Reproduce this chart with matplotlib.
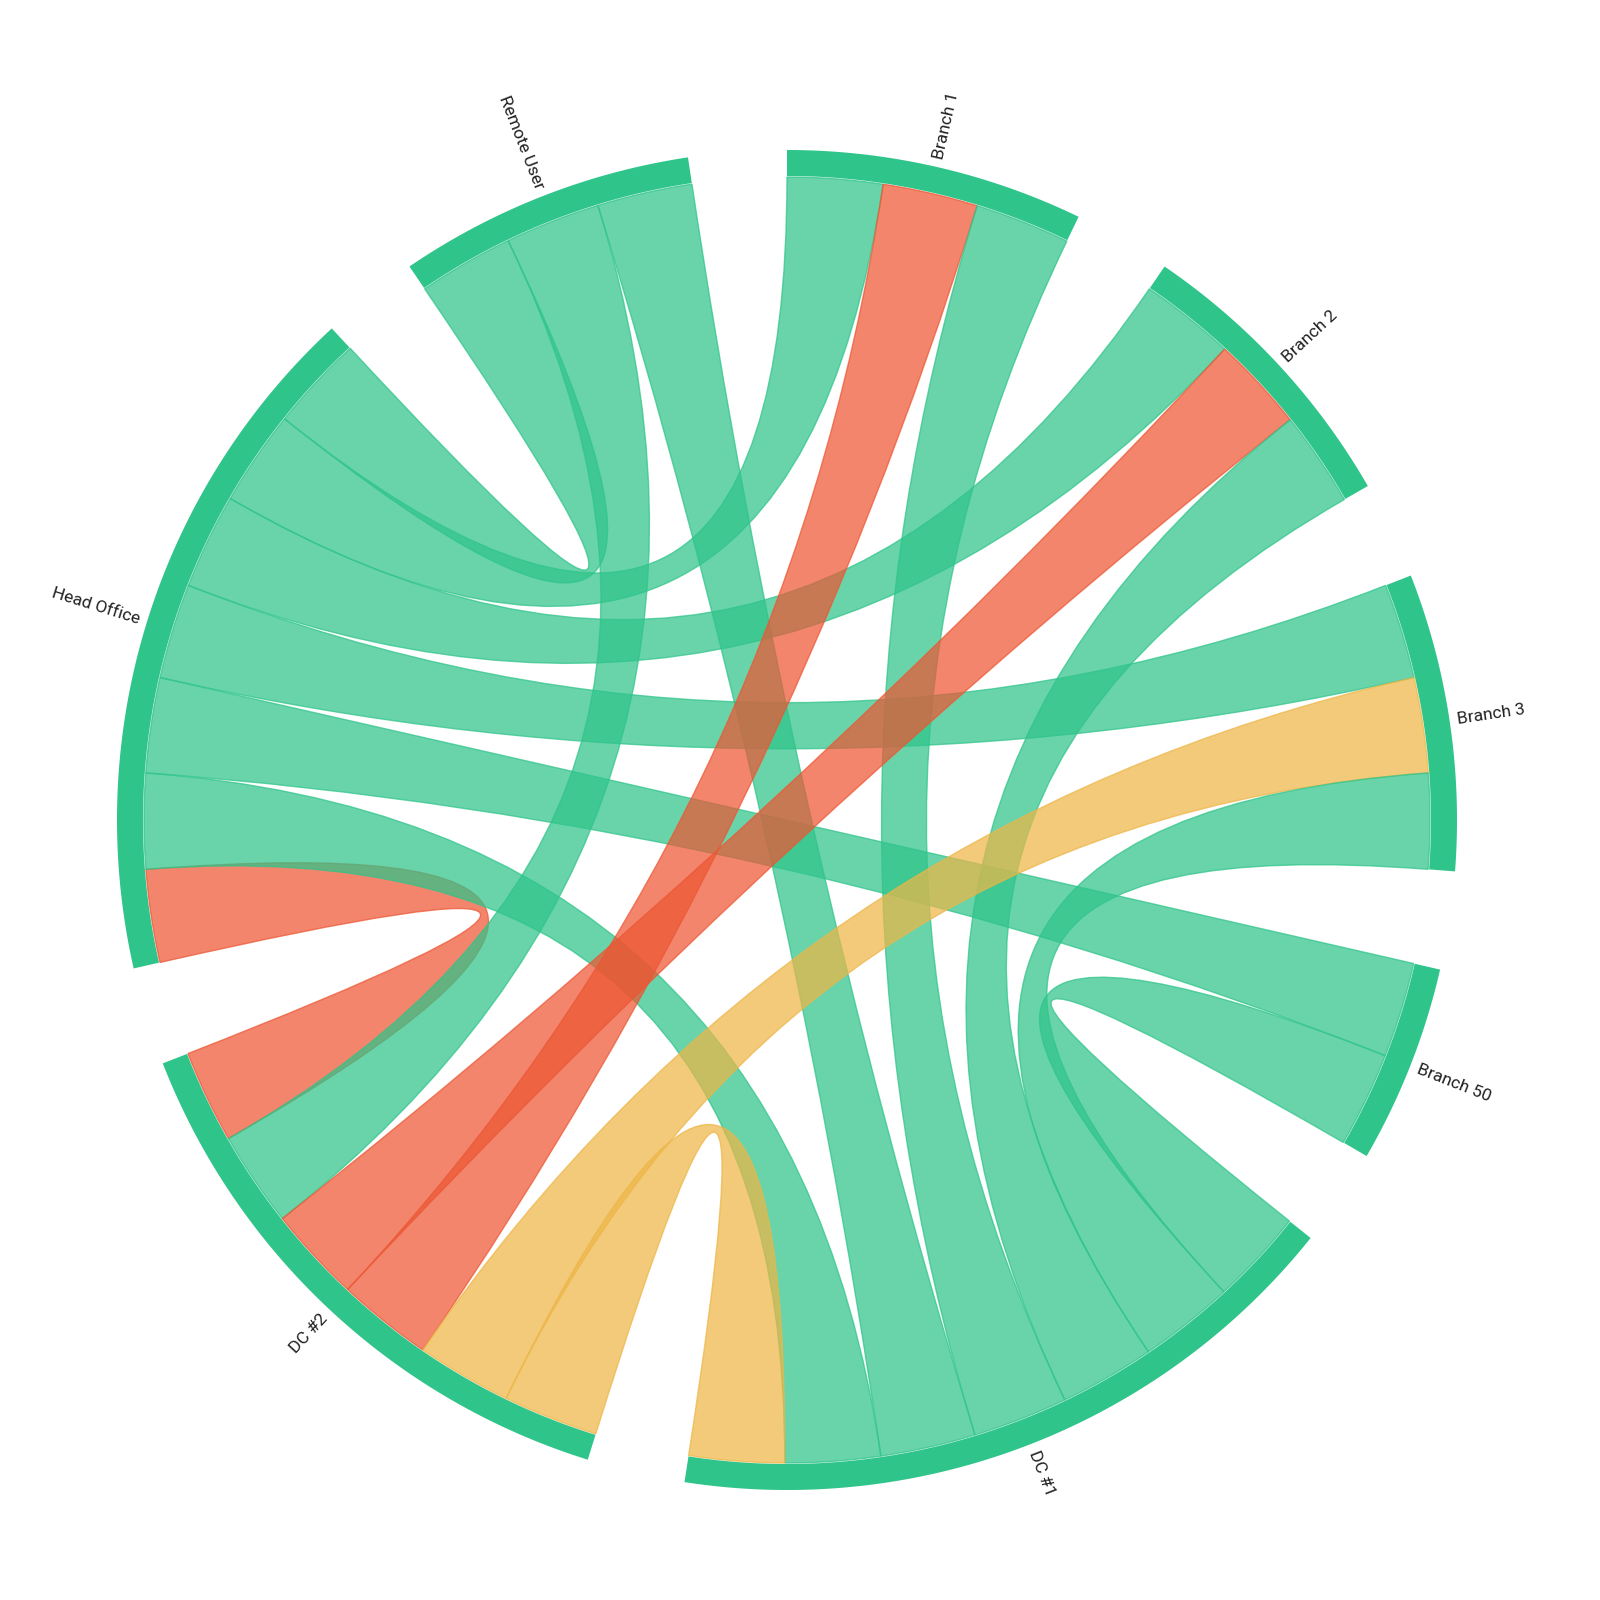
import numpy as np
import matplotlib
matplotlib.use("Agg")
import matplotlib.pyplot as plt
from matplotlib.path import Path
from matplotlib.patches import PathPatch

nodes = ["Branch 1", "Branch 2", "Branch 3", "Branch 50", "DC #1", "DC #2", "Head Office", "Remote User"]
# links: (source, target, value, colour key)
link_src = ["Head Office","Head Office","Head Office","Head Office","Head Office","Head Office","Head Office",
            "Remote User","Remote User","Branch 1","Branch 1","Branch 2","Branch 2","Branch 3","Branch 3",
            "Branch 50","DC #1"]
link_tgt = ["DC #2","DC #1","Branch 50","Branch 3","Branch 2","Branch 1","Remote User",
            "DC #2","DC #1","DC #2","DC #1","DC #2","DC #1","DC #2","DC #1",
            "DC #1","DC #2"]
link_val = [8.4,8.6,8.6,8.6,8.6,8.6,8.6, 8.6,8.6, 8.6,8.6, 8.6,8.6, 8.6,8.6, 8.6,8.6]
link_col = ["red","green","green","green","green","green","green",
            "green","green","red","green","red","green","yellow","green",
            "green","yellow"]
# clockwise order of connections at each node
order = {
    "Branch 1": ["Head Office","DC #2","DC #1"],
    "Branch 2": ["Head Office","DC #2","DC #1"],
    "Branch 3": ["Head Office","DC #2","DC #1"],
    "Branch 50": ["Head Office","DC #1"],
    "DC #1": ["Branch 50","Branch 3","Branch 2","Branch 1","Remote User","Head Office","DC #2"],
    "DC #2": ["DC #1","Branch 3","Branch 1","Branch 2","Remote User","Head Office"],
    "Head Office": ["DC #2","DC #1","Branch 50","Branch 3","Branch 2","Branch 1","Remote User"],
    "Remote User": ["Head Office","DC #2","DC #1"],
}
colors = {"green": "#2fc48a", "red": "#ED5633", "yellow": "#EDB647"}

def lval(a, b):
    for s, t, v in zip(link_src, link_tgt, link_val):
        if (s == a and t == b) or (s == b and t == a):
            return v

totals = {n: sum(lval(n, o) for o in order[n]) for n in nodes}
gap = (360 - sum(totals.values())) / len(nodes)

seg = {}
node_span = {}
ang = 0.0
for n in nodes:
    start = ang
    for o in order[n]:
        v = lval(n, o)
        seg[(n, o)] = (ang, ang + v)
        ang += v
    node_span[n] = (start, ang)
    ang += gap

cx, cy = 787, 780
r_in, r_out = 643, 670

def P(theta, r):
    t = np.radians(theta)
    return (cx + r * np.sin(t), cy + r * np.cos(t))

def arcpts(a0, a1, r, n=60):
    return [P(t, r) for t in np.linspace(a0, a1, n)]

fig = plt.figure(figsize=(16, 16), dpi=100)
ax = fig.add_axes([0, 0, 1, 1])
ax.set_xlim(0, 1600); ax.set_ylim(0, 1600); ax.set_aspect("equal"); ax.axis("off")

for s, t, v, c in zip(link_src, link_tgt, link_val, link_col):
    a0, a1 = seg[(s, t)]
    b0, b1 = seg[(t, s)]
    verts, codes = [], []
    pa = arcpts(a0, a1, r_in)
    verts += pa; codes += [Path.MOVETO] + [Path.LINETO] * (len(pa) - 1)
    verts += [(cx, cy), P(b0, r_in)]; codes += [Path.CURVE3] * 2
    pb = arcpts(b0, b1, r_in)[1:]
    verts += pb; codes += [Path.LINETO] * len(pb)
    verts += [(cx, cy), P(a0, r_in)]; codes += [Path.CURVE3] * 2
    col = colors[c]
    ax.add_patch(PathPatch(Path(verts, codes), facecolor=col, alpha=0.72,
                           edgecolor=col, lw=1.0))

for n in nodes:
    a0, a1 = node_span[n]
    outer = arcpts(a0, a1, r_out, 100)
    inner = arcpts(a1, a0, r_in + 1, 100)
    ax.fill([p[0] for p in outer + inner], [p[1] for p in outer + inner],
            color="#2fc48a", lw=0)
    mid = (a0 + a1) / 2
    x, y = P(mid, r_out + 8)
    if mid < 180:
        rot, ha = 90 - mid, "left"
    else:
        rot, ha = 270 - mid, "right"
    ax.text(x, y, n, rotation=rot, ha=ha, va="center", rotation_mode="anchor",
            fontsize=12.5, family=["Roboto", "DejaVu Sans"], color="#222222")

fig.savefig("out.png", dpi=100, facecolor="white")
